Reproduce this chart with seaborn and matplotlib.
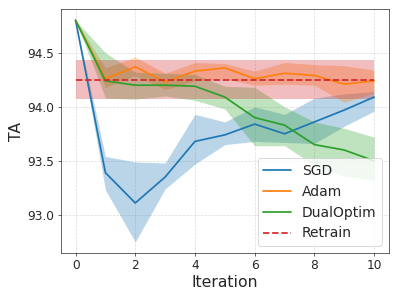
import numpy as np
import pandas as pd
import seaborn as sns
import matplotlib
matplotlib.use("Agg")
import matplotlib.pyplot as plt

iterations = list(range(11))

sgd_mean = [94.80, 93.39, 93.11, 93.35, 93.68, 93.74, 93.84, 93.75, 93.86, 93.97, 94.09]
sgd_low = [94.80, 93.23, 92.75, 93.24, 93.47, 93.65, 93.68, 93.67, 93.66, 93.82, 93.96]
sgd_high = [94.80, 93.54, 93.49, 93.48, 93.93, 93.86, 94.00, 93.93, 94.08, 94.12, 94.14]

adam_mean = [94.80, 94.26, 94.37, 94.23, 94.33, 94.36, 94.26, 94.31, 94.29, 94.21, 94.24]
adam_low = [94.80, 94.18, 94.29, 94.16, 94.24, 94.26, 94.20, 94.21, 94.20, 94.04, 94.13]
adam_high = [94.80, 94.36, 94.46, 94.31, 94.41, 94.40, 94.33, 94.41, 94.39, 94.38, 94.34]

dual_mean = [94.80, 94.24, 94.20, 94.20, 94.19, 94.09, 93.90, 93.83, 93.65, 93.60, 93.50]
dual_low = [94.80, 94.08, 94.07, 94.10, 94.06, 93.98, 93.64, 93.64, 93.46, 93.36, 93.32]
dual_high = [94.80, 94.50, 94.32, 94.31, 94.30, 94.19, 94.18, 94.00, 93.86, 93.80, 93.72]

retrain_mean = 94.25
retrain_low = 94.07
retrain_high = 94.43

sns.set_style("ticks")
plt.rcParams['font.family'] = ['DejaVu Sans']

df = pd.DataFrame({
    'Iteration': iterations * 3,
    'TA': sgd_mean + adam_mean + dual_mean,
    'method': ['SGD'] * 11 + ['Adam'] * 11 + ['DualOptim'] * 11,
})

dpi = 62.3
fig = plt.figure(figsize=(399 / dpi, 299 / dpi), dpi=dpi)
ax = fig.add_axes([0.152, 0.154, 0.823, 0.815])

colors = {'SGD': 'tab:blue', 'Adam': 'tab:orange', 'DualOptim': 'tab:green'}
sns.lineplot(data=df, x='Iteration', y='TA', hue='method', palette=colors, ax=ax, linewidth=2)

ax.fill_between(iterations, sgd_low, sgd_high, color='tab:blue', alpha=0.3, linewidth=0)
ax.fill_between(iterations, adam_low, adam_high, color='tab:orange', alpha=0.3, linewidth=0)
ax.fill_between(iterations, dual_low, dual_high, color='tab:green', alpha=0.3, linewidth=0)
ax.fill_between(iterations, [retrain_low] * 11, [retrain_high] * 11, color='tab:red', alpha=0.3, linewidth=0)
ax.plot(iterations, [retrain_mean] * 11, color='tab:red', linestyle='--', linewidth=2, label='Retrain')

ax.grid(True, linestyle='--', color='lightgray', alpha=0.8)
ax.set_xticks([0, 2, 4, 6, 8, 10])
ax.set_yticks([93.0, 93.5, 94.0, 94.5])
ax.tick_params(labelsize=14)
ax.set_xlabel('Iteration', fontsize=18)
ax.set_ylabel('TA', fontsize=18)
ax.legend(loc='lower right', fontsize=16)

fig.savefig('out.png', dpi=dpi)
